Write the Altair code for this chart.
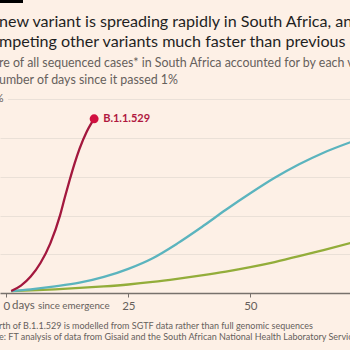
import altair as alt
import pandas as pd

# ---- data ----
red_days = [1, 3, 5, 7, 9, 11, 12, 13, 14, 15, 16.5, 18]
red_vals = [1, 3.8, 8.5, 15.5, 25.5, 40, 49.5, 58.5, 67, 74.5, 83.5, 90]

teal_days = [1, 5, 10, 15, 20, 25, 30, 35, 40, 45, 50, 55, 60, 65, 70.5]
teal_vals = [1, 1.9, 3.4, 5.3, 8.3, 12.5, 18, 25.5, 34, 43, 51.5, 59.5, 66.5, 72.5, 77.9]

green_days = [1, 5, 10, 15, 20, 25, 30, 35, 40, 45, 50, 55, 60, 65, 70.5]
green_vals = [1, 1.4, 1.9, 2.6, 3.4, 4.4, 5.7, 7.3, 9.1, 11.1, 13.4, 16, 19, 22.2, 25.8]

x_ticks = [0, 25, 50, 75]
grid_vals = [20, 40, 60, 80]
top_grid = [100]

title_lines = ["new variant is spreading rapidly in South Africa, and is",
               "mpeting other variants much faster than previous ones"]
subtitle_lines = ["re of all sequenced cases* in South Africa accounted for by each variant, by",
                  "umber of days since it passed 1%"]
foot_lines = ["rth of B.1.1.529 is modelled from SGTF data rather than full genomic sequences",
              "e: FT analysis of data from Gisaid and the South African National Health Laboratory Service"]

BG = "#fdf0e6"
GREY = "#66605c"
FONT = "Lato"

def series(days, vals, name):
    return pd.DataFrame({"day": days, "share": vals, "variant": name})

lines_df = pd.concat([
    series(green_days, green_vals, "green"),
    series(teal_days, teal_vals, "teal"),
    series(red_days, red_vals, "B.1.1.529"),
])

xscale = alt.Scale(domain=[-1.29, 70.43], nice=False, zero=False)
yscale = alt.Scale(domain=[0, 151.4], nice=False, zero=False)

lines = alt.Chart(lines_df).mark_line(strokeWidth=2.3, interpolate="monotone").encode(
    x=alt.X("day:Q", scale=xscale,
            axis=alt.Axis(values=x_ticks, title=None, grid=False, domainColor="#77716c",
                          tickColor="#77716c", tickSize=4, labelColor=GREY, labelFont=FONT,
                          labelFontSize=11.5, labelPadding=12, labelBaseline="alphabetic",
                          labelFlush=False, domainWidth=1.3)),
    y=alt.Y("share:Q", scale=yscale,
            axis=alt.Axis(values=grid_vals, title=None, labels=False, ticks=False, domain=False,
                          grid=True, gridColor="#eae0d7", gridWidth=1)),
    color=alt.Color("variant:N", legend=None,
                    scale=alt.Scale(domain=["green", "teal", "B.1.1.529"],
                                    range=["#93ad3a", "#5bb4be", "#a3183e"])),
    order=alt.Order("day:Q"),
)

end_df = pd.DataFrame({"day": [red_days[-1]], "share": [red_vals[-1]], "label": ["B.1.1.529"]})
dot = alt.Chart(end_df).mark_circle(size=80, color="#d1103f", opacity=1).encode(
    x=alt.X("day:Q", scale=xscale), y=alt.Y("share:Q", scale=yscale))
dot_label = alt.Chart(end_df).mark_text(align="left", baseline="middle", dx=9, dy=0,
                                         font=FONT, fontSize=11, fontWeight="bold",
                                         color="#b0183f").encode(
    x=alt.X("day:Q", scale=xscale), y=alt.Y("share:Q", scale=yscale), text="label:N")

top_rule = alt.Chart(pd.DataFrame({"share": top_grid})).mark_rule(color="#eae0d7", strokeWidth=1).encode(
    y=alt.Y("share:Q", scale=yscale), x=alt.value(8), x2=alt.value(350))
top_label = alt.Chart(pd.DataFrame({"share": top_grid, "t": ["100%"]})).mark_text(
    align="right", baseline="middle", font=FONT, fontSize=11, color=GREY).encode(
    y=alt.Y("share:Q", scale=yscale), x=alt.value(3.5), text="t:N")

bar = alt.Chart(pd.DataFrame({"a": [0]})).mark_rect(color="#000000").encode(
    x=alt.value(0), x2=alt.value(23), y=alt.value(0), y2=alt.value(3))

def text_block(lines_, y0, step, size, color, x=-1):
    layers = []
    for i, t in enumerate(lines_):
        layers.append(alt.Chart(pd.DataFrame({"t": [t]})).mark_text(
            align="left", baseline="alphabetic", font=FONT, fontSize=size, color=color).encode(
            x=alt.value(x), y=alt.value(y0 + i * step), text="t:N"))
    return layers

title_layers = text_block(title_lines, 26.5, 20.5, 16.1, "#1f1f1f")
sub_layers = text_block(subtitle_lines, 67, 16.5, 12.4, GREY)
foot_layers = text_block(foot_lines, 328.5, 11.3, 9.0, GREY)

days_lbl = alt.Chart(pd.DataFrame({"t": ["days"]})).mark_text(
    align="left", baseline="alphabetic", font=FONT, fontSize=11.5, color=GREY).encode(
    x=alt.value(12), y=alt.value(309), text="t:N")
since_lbl = alt.Chart(pd.DataFrame({"t": ["since emergence"]})).mark_text(
    align="left", baseline="alphabetic", font=FONT, fontSize=9.8, color=GREY).encode(
    x=alt.value(38), y=alt.value(309), text="t:N")

chart = alt.layer(
    top_rule, lines, dot, dot_label, top_label, bar, days_lbl, since_lbl,
    *title_layers, *sub_layers, *foot_layers
).properties(
    width=350, height=293,
    autosize=alt.AutoSizeParams(type="none"),
    padding={"left": 0, "top": 0, "right": 0, "bottom": 57},
    background=BG,
).configure_view(stroke=None)

chart.save("out.html", embed_options={"renderer": "svg", "actions": False})
